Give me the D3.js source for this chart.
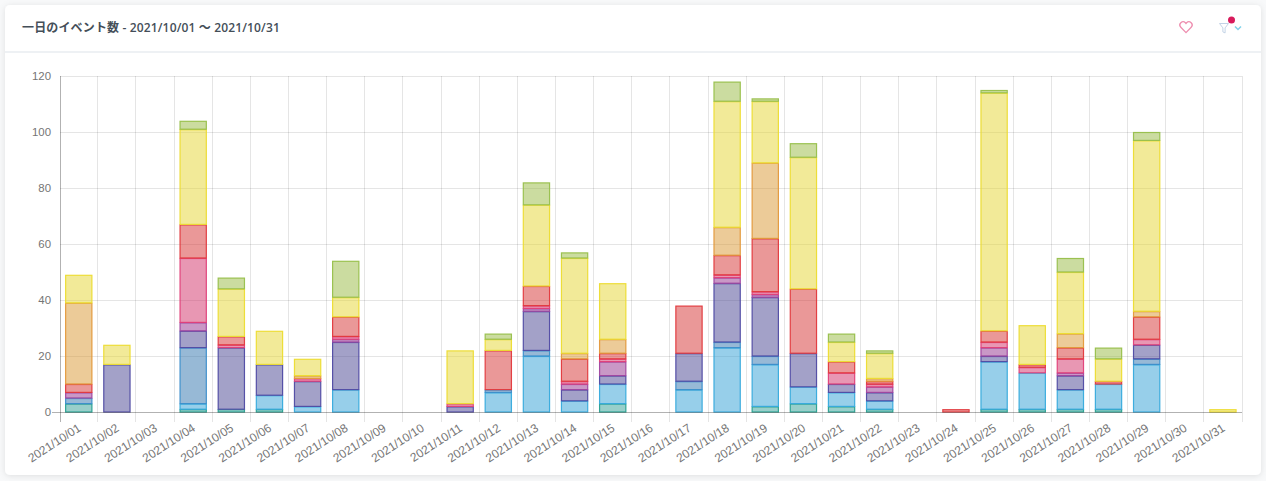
<!DOCTYPE html>
<html lang="ja">
<head>
<meta charset="utf-8">
<title>一日のイベント数</title>
<script src="https://cdn.jsdelivr.net/npm/d3@7/dist/d3.min.js"></script>
<style>
  html, body { margin: 0; padding: 0; background: #f8f9fa; width: 1266px; height: 481px; overflow: hidden; }
  svg { display: block; }
  .tick text { font-family: "Liberation Sans", Arial, sans-serif; font-size: 11.4px; fill: #757575; }
  .x-axis .tick text { font-size: 12px; }
  .title { font-family: "Open Sans", "Noto Sans CJK JP", sans-serif; font-size: 12px; font-weight: 600; letter-spacing: 0.15px; fill: #444e58; }
</style>
</head>
<body>
<svg id="chart" width="1266" height="481"></svg>
<script>
// Daily event counts, October 2021, one array per event type (bottom of the stack first).
const days = ["2021/10/01","2021/10/02","2021/10/03","2021/10/04","2021/10/05","2021/10/06","2021/10/07","2021/10/08","2021/10/09","2021/10/10","2021/10/11","2021/10/12","2021/10/13","2021/10/14","2021/10/15","2021/10/16","2021/10/17","2021/10/18","2021/10/19","2021/10/20","2021/10/21","2021/10/22","2021/10/23","2021/10/24","2021/10/25","2021/10/26","2021/10/27","2021/10/28","2021/10/29","2021/10/30","2021/10/31"];
const teal   = [3,0,0,1,1,1,0,0,0,0,0,0,0,0,3,0,0,0,2,3,2,1,0,0,1,1,1,1,0,0,0];
const sky    = [0,0,0,2,0,5,2,8,0,0,0,7,20,4,7,0,8,23,15,6,5,3,0,0,17,13,7,9,17,0,0];
const blue   = [2,0,0,20,0,0,0,0,0,0,0,1,2,0,0,0,3,2,3,0,0,0,0,0,0,0,0,0,2,0,0];
const indigo = [0,17,0,6,22,11,9,17,0,0,2,0,14,4,3,0,10,21,21,12,3,3,0,0,2,0,5,0,5,0,0];
const purple = [2,0,0,3,0,0,0,1,0,0,0,0,1,2,5,0,0,2,1,0,0,2,0,0,3,0,1,0,0,0,0];
const pink   = [0,0,0,23,1,0,1,1,0,0,1,0,1,1,1,0,0,1,1,0,4,1,0,0,2,2,5,0,2,0,0];
const red    = [3,0,0,12,3,0,0,7,0,0,0,14,7,8,2,0,17,7,19,23,4,1,0,1,4,1,4,1,8,0,0];
const orange = [29,0,0,0,0,0,1,0,0,0,0,0,0,2,5,0,0,10,27,0,0,1,0,0,0,0,5,0,2,0,0];
const yellow = [10,7,0,34,17,12,6,7,0,0,19,4,29,34,20,0,0,45,22,47,7,9,0,0,85,14,22,8,61,0,1];
const green  = [0,0,0,3,4,0,0,13,0,0,0,2,8,2,0,0,0,7,1,5,3,1,0,0,1,0,5,4,3,0,0];

const seriesNames = ["teal","sky","blue","indigo","purple","pink","red","orange","yellow","green"];
const seriesValues = [teal, sky, blue, indigo, purple, pink, red, orange, yellow, green];
const seriesFills = ["rgb(49,159,149)","rgb(47,159,213)","rgb(47,115,173)","rgb(71,67,145)","rgb(147,49,141)","rgb(209,47,103)","rgb(213,49,49)","rgb(217,151,49)","rgb(229,213,49)","rgb(151,185,65)"];
const seriesBorders = ["#27a090","#36aadc","#3b8ecb","#4f4aa3","#a0459f","#e03f78","#e2383c","#e3983a","#ecdc30","#97bf4a"];
const yTicks = [0,20,40,60,80,100,120];
const titleText = "一日のイベント数 - 2021/10/01 ～ 2021/10/31";

const svg = d3.select("#chart");

// Card behind the chart
const defs = svg.append("defs");
const shadow = defs.append("filter").attr("id","cardShadow")
  .attr("x","-2%").attr("y","-4%").attr("width","104%").attr("height","108%");
shadow.append("feDropShadow").attr("dx",0).attr("dy",1).attr("stdDeviation",3)
  .attr("flood-color","#000").attr("flood-opacity",0.1);
svg.append("rect").attr("x",5).attr("y",5).attr("width",1256).attr("height",470).attr("rx",5)
  .attr("fill","#fff").attr("filter","url(#cardShadow)");
svg.append("line").attr("x1",5).attr("x2",1261).attr("y1",52).attr("y2",52)
  .attr("stroke","#e9edf1").attr("stroke-width",1.5);
svg.append("text").attr("class","title").attr("x",22).attr("y",32).text(titleText);

// Header icons: favourite, filter, filter-active dot, chevron
const icons = svg.append("g").attr("fill","none");
icons.append("path")
  .attr("d","M1186 32.6 l-5.2-5.3 a3.2 3.2 0 0 1 4.6-4.5 l0.6 0.7 l0.6-0.7 a3.2 3.2 0 0 1 4.6 4.5 z")
  .attr("stroke","#ee8fb0").attr("stroke-width",1.3);
icons.append("path").attr("d","M1219.5 23.5 h9 l-3.4 4.4 v5 l-2.2-1 v-4 z")
  .attr("stroke","#c3d3e6").attr("stroke-width",1);
icons.append("path").attr("d","M1235 26.5 l3 3 l3-3").attr("stroke","#7fd3ea").attr("stroke-width",1.5);
svg.append("circle").attr("cx",1231.5).attr("cy",20).attr("r",3.5).attr("fill","#d81b5c");

// Scales
const x = d3.scaleBand().domain(days).range([59.7,1242]);
const barX = d3.scaleBand().domain(days).range([59.7,1242]).paddingInner(0.285).paddingOuter(0.1425);
const y = d3.scaleLinear().domain([0,120]).range([412,76]);

// Gridlines
const grid = svg.append("g").attr("stroke","rgba(0,0,0,0.1)").attr("stroke-width",1);
grid.selectAll("line.h").data(yTicks.slice(1)).join("line").attr("class","h")
  .attr("x1",60).attr("x2",1242)
  .attr("y1",d => Math.round(y(d))+0.5).attr("y2",d => Math.round(y(d))+0.5);
grid.selectAll("line.v").data([...days.slice(1),"end"]).join("line").attr("class","v")
  .attr("x1",d => Math.floor(d==="end" ? 1242 : x(d))+0.5)
  .attr("x2",d => Math.floor(d==="end" ? 1242 : x(d))+0.5)
  .attr("y1",76).attr("y2",422);

// Stacked bars
const rows = days.map((d,i) => {
  const row = {day:d};
  seriesNames.forEach((n,s) => row[n] = seriesValues[s][i]);
  return row;
});
const stacked = d3.stack().keys(seriesNames)(rows);
const layers = svg.append("g").selectAll("g").data(stacked).join("g")
  .attr("fill",(d,i) => seriesFills[i]).attr("stroke",(d,i) => seriesBorders[i]);
layers.selectAll("rect").data(d => d.filter(v => v[1] > v[0]).map(v => ({v, day:v.data.day})))
  .join("rect")
  .attr("x",d => barX(d.day)+0.5)
  .attr("width",barX.bandwidth()-1)
  .attr("y",d => y(d.v[1])+0.5)
  .attr("height",d => Math.max(y(d.v[0])-y(d.v[1])-0.5,0.5))
  .attr("fill-opacity",0.5)
  .attr("stroke-opacity",0.95)
  .attr("stroke-width",1.2);

// Axes
const yAxis = d3.axisLeft(y).tickValues(yTicks).tickSize(0).tickPadding(9);
const yG = svg.append("g").attr("transform","translate(60,0)").call(yAxis);
yG.select(".domain").attr("stroke","rgba(0,0,0,0.3)").attr("stroke-width",1).attr("d","M0.5,76V422");

const xAxis = d3.axisBottom(x).tickSize(0);
const xG = svg.append("g").attr("class","x-axis").attr("transform","translate(0,412)").call(xAxis);
xG.select(".domain").attr("stroke","rgba(0,0,0,0.3)").attr("stroke-width",1).attr("d","M52,0.5H1242");
xG.selectAll(".tick text")
  .attr("text-anchor","end")
  .attr("dy",0).attr("y",0)
  .attr("transform","translate(3,18) rotate(-33)");
</script>
</body>
</html>
